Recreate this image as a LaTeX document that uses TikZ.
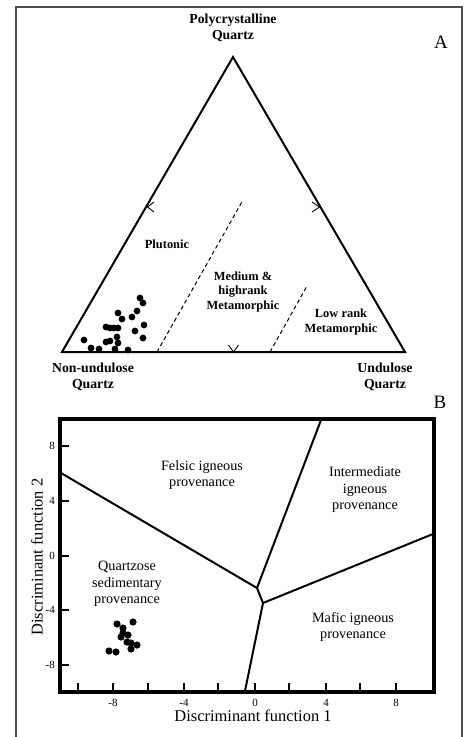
\documentclass[tikz,border=0pt]{standalone}
\usepackage{fontspec}
\setmainfont{Liberation Serif}
\begin{document}
\begin{tikzpicture}[x=1bp,y=-1bp,
  frameline/.style={draw=black!70,line width=1.3bp},
  triedge/.style={draw=black,line width=2bp,line join=miter},
  chev/.style={draw=black,line width=0.9bp},
  dashline/.style={draw=black,line width=1bp,dash pattern=on 4bp off 3bp},
  dot/.style={circle,fill=black,inner sep=0pt,minimum size=6.8bp},
  vlabel/.style={font=\bfseries\fontsize{13.8}{16}\selectfont,align=center,inner sep=0pt},
  ilabel/.style={font=\bfseries\fontsize{12.5}{15}\selectfont,align=center,inner sep=0pt},
  blabel/.style={font=\fontsize{14.3}{16.5}\selectfont,align=center,inner sep=0pt},
  panel/.style={font=\fontsize{19}{19}\selectfont,inner sep=0pt},
  ticklab/.style={font=\fontsize{11}{11}\selectfont,inner sep=0pt},
  axlab/.style={font=\fontsize{16.5}{16.5}\selectfont,inner sep=0pt},
  plotframe/.style={draw=black,line width=4bp},
  divline/.style={draw=black,line width=2bp,line join=round},
  tickline/.style={draw=black,line width=1.2bp}]
\useasboundingbox (0,0) rectangle (464,737);
% outer frame
\draw[frameline] (16,737) -- (16,7) -- (462,7) -- (462,737);

% ===== Panel A =====
\coordinate (T) at (233,57);
\coordinate (L) at (62,352);
\coordinate (R) at (405,352);
\draw[triedge] (L) -- (T) -- (R) -- cycle;
% midpoint chevrons
\draw[chev] (154,202) -- (147.5,207) -- (154,212);
\draw[chev] (312,202) -- (319.5,207) -- (312,212);
\draw[chev] (228.5,345) -- (233.5,352) -- (238.5,345);
% dashed boundaries
\coordinate (d1a) at (157,352);
\coordinate (d1b) at (243,200);
\coordinate (d2a) at (270,352);
\coordinate (d2b) at (307,286);
\draw[dashline] (d1a) -- (d1b);
\draw[dashline] (d2a) -- (d2b);

\node[vlabel] (top) at (233,28) {Polycrystalline\\Quartz};
\node[vlabel] (nonund) at (93,377) {Non-undulose\\Quartz};
\node[vlabel] (und) at (385,377) {Undulose\\Quartz};
\node[ilabel] (plut) at (167,244) {Plutonic};
\node[ilabel] (medhi) at (243,292) {Medium \&\\highrank\\Metamorphic};
\node[ilabel] (lowr) at (341,322) {Low rank\\Metamorphic};
\node[panel] (pA) at (441,42) {A};

\foreach \i/\x/\y in {1/84/340,2/91/348,3/99/349,4/106/342,5/110/341,6/117/337,7/118/343,8/128/350,9/115/349,10/106/327,11/110/328,12/114/328,13/118/328,14/118/313,15/122/319,16/132/317,17/137/311,18/140/298,19/143/303,20/135/331,21/144/325,22/143/338}
  \node[dot] (ta\i) at (\x,\y) {};

% ===== Panel B =====
\node[panel] (pB) at (440,402) {B};
\draw[plotframe] (60,419) rectangle (434,692);
% x ticks
\foreach \x in {78,113,148,184,218,255,289,326,360,396}
  \draw[tickline] (\x,692) -- (\x,683);
\foreach \y in {446,501,556,610,665}
  \draw[tickline] (60,\y) -- (69,\y);
\foreach \n/\x/\t in {a/113/-8,b/184/-4,c/255/0,d/326/4,e/396/8}
  \node[ticklab] (xt\n) at (\x,703) {\t};
\foreach \n/\y/\t in {a/446/8,b/501/4,c/556/0,d/610/-4,e/665/-8}
  \node[ticklab,anchor=east] (yt\n) at (55,\y) {\t};
\node[axlab] (xlab) at (253,716) {Discriminant function 1};
\node[axlab,rotate=90] (ylab) at (37,557) {Discriminant function 2};

% divisions
\coordinate (j1) at (257,588);
\coordinate (j2) at (263,603);
\coordinate (eL) at (61,473);
\coordinate (eT) at (321,420);
\coordinate (eR) at (433,534);
\coordinate (eB) at (245,691);
\draw[divline] (eL) -- (j1) -- (eT);
\draw[divline] (j1) -- (j2) -- (eR);
\draw[divline] (j2) -- (eB);

\node[blabel] (fel) at (202,475) {Felsic igneous\\provenance};
\node[blabel] (inter) at (365,490) {Intermediate\\igneous\\provenance};
\node[blabel] (quartz) at (127,584) {Quartzose\\sedimentary\\provenance};
\node[blabel] (maf) at (353,627) {Mafic igneous\\provenance};

\foreach \i/\x/\y in {1/117/624,2/123/628,3/133/622,4/121/637,5/128/635,6/127/642,7/131/643,8/137/645,9/131/649,10/109/651,11/116/652,12/123/633}
  \node[dot,minimum size=7.2bp] (bd\i) at (\x,\y) {};
\end{tikzpicture}
\end{document}
